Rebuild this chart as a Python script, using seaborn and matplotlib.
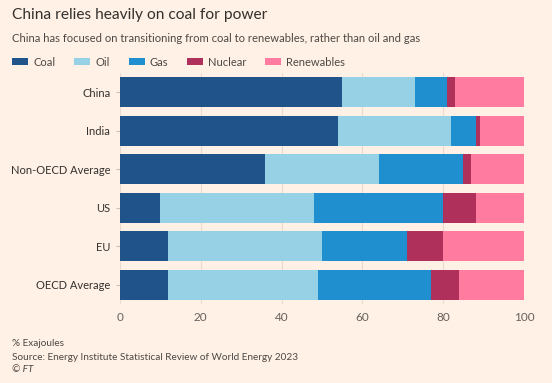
import seaborn as sns
import matplotlib.pyplot as plt
import pandas as pd
from matplotlib.patches import Patch

regions = ["China", "India", "Non-OECD Average", "US", "EU", "OECD Average"]
fuels = ["Coal", "Oil", "Gas", "Nuclear", "Renewables"]
coal = [55, 54, 36, 10, 12, 12]
oil = [18, 28, 28, 38, 38, 37]
gas = [8, 6, 21, 32, 21, 28]
nuclear = [2, 1, 2, 8, 9, 7]
renewables = [17, 11, 13, 12, 20, 16]

colors = ["#1f5389", "#96d1e6", "#1f8fcf", "#b0305c", "#ff7ba0"]
bg = "#fff1e5"

df = pd.DataFrame({"region": regions, "Coal": coal, "Oil": oil, "Gas": gas,
                   "Nuclear": nuclear, "Renewables": renewables})
# cumulative totals, drawn from the widest down so they stack
cum = df[fuels].cumsum(axis=1)
cum["region"] = df["region"]

sns.set_style("white")
plt.rcParams["font.family"] = ["Lato", "DejaVu Sans"]

fig = plt.figure(figsize=(5.52, 3.83), dpi=100, facecolor=bg)
ax = fig.add_axes([120 / 552, 1 - 304 / 383, 404 / 552, 231 / 383])
ax.set_facecolor(bg)

for fuel, col in reversed(list(zip(fuels, colors))):
    sns.barplot(data=cum, x=fuel, y="region", color=col, width=0.78,
                saturation=1, ax=ax, zorder=3, linewidth=0)

ax.set_xlim(0, 100)
ax.set_ylim(5.5, -0.5)
ax.set_xticks([0, 20, 40, 60, 80, 100])
ax.xaxis.grid(True, color="#e9dccf", linewidth=0.8, zorder=0)
ax.set_xlabel("")
ax.set_ylabel("")
for s in ax.spines.values():
    s.set_visible(False)
ax.tick_params(axis="x", length=0, labelsize=8.5, labelcolor="#66605c", pad=6)
ax.tick_params(axis="y", length=3, color="#ccc1b7", labelsize=8,
               labelcolor="#33302e", pad=4, left=True)

fig.text(12 / 552, 1 - 15 / 383, "China relies heavily on coal for power",
         fontsize=11.2, color="#33302e", va="center")
fig.text(12 / 552, 1 - 38 / 383,
         "China has focused on transitioning from coal to renewables, rather than oil and gas",
         fontsize=8.1, color="#4d4845", va="center")

handles = [Patch(facecolor=c, edgecolor="none") for c in colors]
fig.legend(handles, fuels, loc="center left", bbox_to_anchor=(2 / 552, 1 - 62 / 383),
           ncol=5, frameon=False, fontsize=8, handlelength=1.45, handleheight=0.65,
           columnspacing=1.7, handletextpad=0.45, labelcolor="#4d4845")

fig.text(12 / 552, 1 - 343 / 383, "% Exajoules", fontsize=7.2, color="#4d4845", va="center")
fig.text(12 / 552, 1 - 357 / 383, "Source: Energy Institute Statistical Review of World Energy 2023",
         fontsize=7.2, color="#4d4845", va="center")
fig.text(12 / 552, 1 - 370 / 383, "© FT", fontsize=7.2, color="#4d4845", va="center",
         style="italic")

fig.savefig("out.png", dpi=100, facecolor=bg)
